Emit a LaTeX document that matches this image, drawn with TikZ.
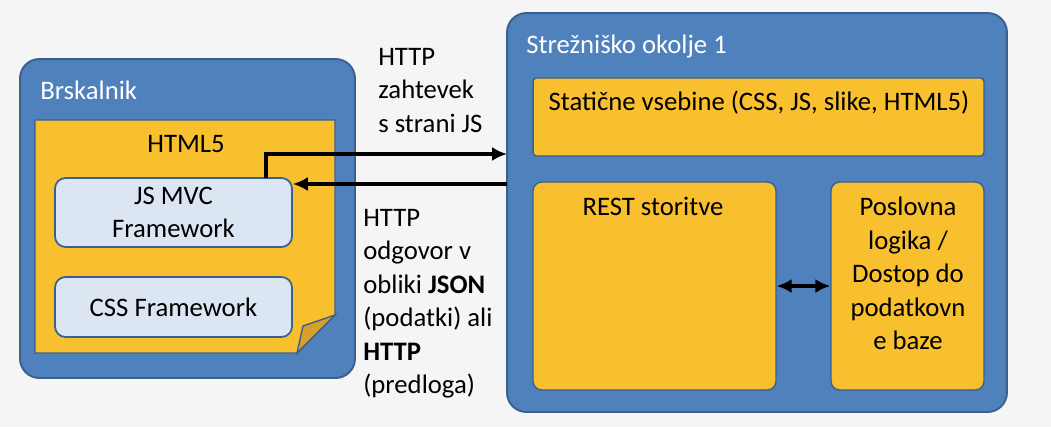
\documentclass[tikz,border=0pt]{standalone}
\usepackage{fontspec}
\setmainfont{Carlito}
\usetikzlibrary{arrows.meta}
\definecolor{bgcol}{RGB}{245,245,246}
\definecolor{boxblue}{RGB}{79,129,189}
\definecolor{edgeblue}{RGB}{58,96,142}
\definecolor{boxgold}{RGB}{248,191,46}
\definecolor{foldgold}{RGB}{214,160,42}
\definecolor{fwblue}{RGB}{220,230,242}
\tikzset{
  envbox/.style={draw=edgeblue, fill=boxblue, line width=1.1pt, rounded corners=11pt, inner sep=0pt},
  partbox/.style={draw=edgeblue, fill=boxgold, line width=0.8pt, inner sep=0pt},
  fwbox/.style={draw=edgeblue, fill=fwblue, line width=1pt, rounded corners=6pt, align=center, inner sep=0pt},
  title/.style={text=white, inner sep=0pt},
  note/.style={align=left, inner sep=0pt},
  ctip/.tip={Latex[length=8.5pt,width=8pt]},
  conn/.style={line width=2.1pt, -ctip},
}
\begin{document}
\begin{tikzpicture}[x=0.02cm, y=-0.02cm, font=\fontsize{15.2pt}{19pt}\selectfont]
\fill[bgcol] (0,0) rectangle (1051,427);
\useasboundingbox (0,0) rectangle (1051,427);

% browser
\node[envbox, minimum width=6.7cm, minimum height=6.38cm] (browser) at (187.5,218.5) {};
\node[title, anchor=base west] (browsertitle) at (40,99) {Brskalnik};
\draw[partbox] (35,120) -- (335,120) -- (335,315) -- (297,353) -- (35,353) -- cycle;
\draw[partbox, fill=foldgold] (297,353) -- (303,326) -- (335,315) -- cycle;
\node[inner sep=0pt, anchor=base] (html5) at (186,152) {HTML5};
\node[fwbox, minimum width=4.74cm, minimum height=1.38cm] (jsmvc) at (173.5,212.5) {JS MVC\\Framework};
\node[fwbox, minimum width=4.74cm, minimum height=1.2cm] (cssfw) at (173.5,307) {CSS Framework};

% server
\node[envbox, minimum width=10cm, minimum height=7.98cm] (server) at (757,212.5) {};
\node[title, anchor=base west] (servertitle) at (526,53) {Strežniško okolje 1};
\node[partbox, rounded corners=2pt, minimum width=9.02cm, minimum height=1.56cm] (static) at (758.5,117) {};
\node[inner sep=0pt, anchor=base] (statictxt) at (759,110) {Statične vsebine (CSS, JS, slike, HTML5)};
\node[partbox, rounded corners=5pt, minimum width=4.86cm, minimum height=4.16cm] (rest) at (654.5,286) {};
\node[inner sep=0pt, anchor=base] (resttxt) at (653,215) {REST storitve};
\node[partbox, rounded corners=5pt, minimum width=3.06cm, minimum height=4.16cm] (logic) at (907.5,286) {};
\node[note, align=center, anchor=north] (logictxt) at (908,197) {Poslovna\\logika /\\Dostop do\\podatkovn\\e baze};

% requests
\coordinate (jsout) at (266,178);
\coordinate (srvin) at (507,154);
\coordinate (srvout) at (507,184);
\draw[conn] (jsout) |- (srvin);
\draw[conn] (srvout) -- (jsmvc.east |- srvout);
\draw[conn, ctip-ctip] (rest.east) -- (logic.west);

\node[note, anchor=north west] (reqtxt) at (378,48) {HTTP\\zahtevek\\s strani JS};
\node[note, anchor=north west] (resptxt) at (363,209) {HTTP\\odgovor v\\obliki \textbf{JSON}\\(podatki) ali\\\textbf{HTTP}\\(predloga)};
\end{tikzpicture}
\end{document}
